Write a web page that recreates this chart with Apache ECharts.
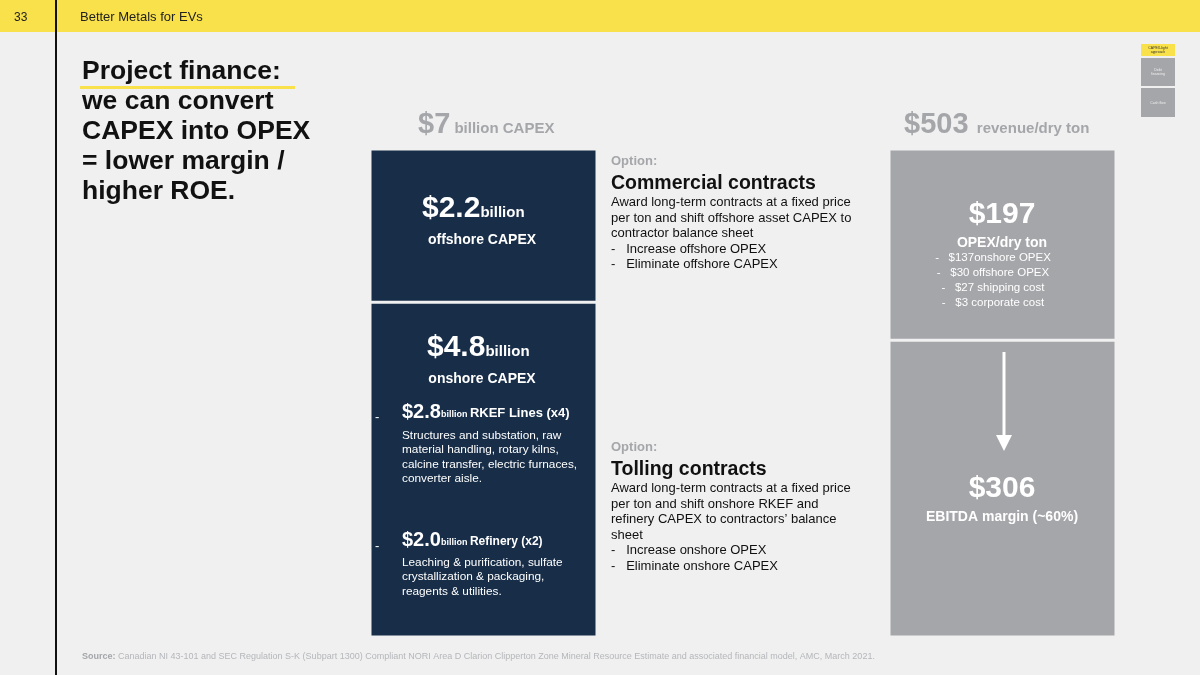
<!DOCTYPE html>
<html lang="en">
<head>
  <meta charset="UTF-8">
  <title>Better Metals for EVs</title>
  <script src="https://cdn.jsdelivr.net/npm/echarts@6/dist/echarts.min.js"></script>
</head>
<body style="margin:0">
  <div id="container" style="width:1200px;height:675px;"></div>
  <script>
    // data
    var capexLabels = ['onshore CAPEX', 'offshore CAPEX'];
    var capexValues = [4.8, 2.2];          // $ billion, bottom to top
    var revenueLabels = ['EBITDA margin', 'OPEX'];
    var revenueValues = [306, 197];        // $ per dry ton, bottom to top
    var opexLines = ['$137onshore OPEX', '$30 offshore OPEX', '$27 shipping cost', '$3 corporate cost'];

    var myChart = echarts.init(document.getElementById('container'));
    var F = 'Liberation Sans, Arial, sans-serif';

    function txt(x, y, text, size, color, weight, lh) {
      return { type: 'text', x: x, y: y,
        style: { text: text, fontSize: size, fill: color, fontWeight: weight || 'normal', fontFamily: F, lineHeight: lh || size * 1.25 } };
    }
    function ctxt(x, y, text, size, weight, lh) {
      return { type: 'text', x: x, y: y,
        style: { text: text, textAlign: 'center', fontSize: size, fontWeight: weight || 'bold', fill: '#fff', fontFamily: F, lineHeight: lh || size * 1.25 } };
    }
    function big(x, y, num, unit) {
      return { type: 'text', x: x, y: y,
        style: { text: '{a|' + num + '}{b|' + unit + '}', fontFamily: F,
          rich: { a: { fontSize: 30, fontWeight: 'bold', fill: '#fff', fontFamily: F },
                  b: { fontSize: 15, fontWeight: 'bold', fill: '#fff', fontFamily: F, padding: [8, 0, 0, 0] } } } };
    }
    function sub(x, y, num, label, lsize) {
      return { type: 'text', x: x, y: y, style: { text: '{a|' + num + '}{b|billion }{c|' + label + '}', rich: {
        a: { fontSize: 20, fontWeight: 'bold', fill: '#fff', fontFamily: F },
        b: { fontSize: 9, fontWeight: 'bold', fill: '#fff', fontFamily: F, padding: [5, 0, 0, 0] },
        c: { fontSize: lsize, fontWeight: 'bold', fill: '#fff', fontFamily: F, padding: [3, 0, 0, 0] } } } };
    }

    var graphics = [
      // header
      { type: 'rect', shape: { x: 0, y: 0, width: 1200, height: 32 }, style: { fill: '#f9e14b' } },
      { type: 'rect', shape: { x: 55, y: 0, width: 2, height: 675 }, style: { fill: '#111' } },
      txt(14, 10, '33', 12, '#222'),
      txt(80, 9, 'Better Metals for EVs', 13, '#222'),
      // title
      { type: 'rect', shape: { x: 80, y: 86, width: 215, height: 3 }, style: { fill: '#f9e14b' } },
      txt(82, 57, 'Project finance:\nwe can convert\nCAPEX into OPEX\n= lower margin /\nhigher ROE.', 26.5, '#111', 'bold', 30),
      // nav boxes
      { type: 'rect', shape: { x: 1141, y: 44, width: 34, height: 12 }, style: { fill: '#f9e14b' } },
      { type: 'text', x: 1158, y: 46, style: { text: 'CAPEX-light\napproach', textAlign: 'center', fontSize: 3.5, fill: '#333', fontFamily: F } },
      { type: 'rect', shape: { x: 1141, y: 58, width: 34, height: 28 }, style: { fill: '#a5a6aa' } },
      { type: 'text', x: 1158, y: 68, style: { text: 'Debt\nfinancing', textAlign: 'center', fontSize: 3.5, fill: '#eee', fontFamily: F } },
      { type: 'rect', shape: { x: 1141, y: 88, width: 34, height: 29 }, style: { fill: '#a5a6aa' } },
      { type: 'text', x: 1158, y: 101, style: { text: 'Cash flow', textAlign: 'center', fontSize: 3.5, fill: '#eee', fontFamily: F } },
      // column headings
      { type: 'text', x: 418, y: 110, style: { text: '{a|$7}{b| billion CAPEX}', rich: {
        a: { fontSize: 29, fontWeight: 'bold', fill: '#a5a6aa', fontFamily: F },
        b: { fontSize: 15, fontWeight: 'bold', fill: '#a5a6aa', fontFamily: F, padding: [8, 0, 0, 0] } } } },
      { type: 'text', x: 904, y: 110, style: { text: '{a|$503}{b|  revenue/dry ton}', rich: {
        a: { fontSize: 29, fontWeight: 'bold', fill: '#a5a6aa', fontFamily: F },
        b: { fontSize: 15, fontWeight: 'bold', fill: '#a5a6aa', fontFamily: F, padding: [8, 0, 0, 0] } } } },
      // left block texts
      big(422, 194, '$2.2', 'billion'),
      ctxt(482, 231, capexLabels[1], 14),
      big(427, 333, '$4.8', 'billion'),
      ctxt(482, 370, capexLabels[0], 14),
      txt(375, 409, '-', 13, '#fff'),
      sub(402, 402, '$2.8', 'RKEF Lines (x4)', 13),
      txt(402, 428, 'Structures and substation, raw\nmaterial handling, rotary kilns,\ncalcine transfer, electric furnaces,\nconverter aisle.', 11.8, '#fff', 'normal', 14.5),
      txt(375, 538, '-', 13, '#fff'),
      sub(402, 530, '$2.0', 'Refinery (x2)', 12),
      txt(402, 555, 'Leaching & purification, sulfate\ncrystallization & packaging,\nreagents & utilities.', 11.8, '#fff', 'normal', 14.5),
      // middle options
      txt(611, 153, 'Option:', 13, '#a5a6aa', 'bold'),
      txt(611, 171, 'Commercial contracts', 19.5, '#111', 'bold'),
      txt(611, 195, 'Award long-term contracts at a fixed price\nper ton and shift offshore asset CAPEX to\ncontractor balance sheet\n-   Increase offshore OPEX\n-   Eliminate offshore CAPEX', 13, '#111', 'normal', 15.5),
      txt(611, 439, 'Option:', 13, '#a5a6aa', 'bold'),
      txt(611, 457, 'Tolling contracts', 19.5, '#111', 'bold'),
      txt(611, 481, 'Award long-term contracts at a fixed price\nper ton and shift onshore RKEF and\nrefinery CAPEX to contractors\u2019 balance\nsheet\n-   Increase onshore OPEX\n-   Eliminate onshore CAPEX', 13, '#111', 'normal', 15.5),
      // right block texts
      ctxt(1002, 196, '$' + revenueValues[1], 30),
      ctxt(1002, 234, 'OPEX/dry ton', 14),
      ctxt(993, 250, opexLines.map(function (s) { return '-   ' + s; }).join('\n'), 11.5, 'normal', 15),
      { type: 'line', shape: { x1: 1004, y1: 352, x2: 1004, y2: 438 }, style: { stroke: '#fff', lineWidth: 3 } },
      { type: 'polygon', shape: { points: [[996, 435], [1012, 435], [1004, 451]] }, style: { fill: '#fff' } },
      ctxt(1002, 470, '$' + revenueValues[0], 30),
      ctxt(1002, 508, 'EBITDA margin (~60%)', 14),
      // source
      { type: 'text', x: 82, y: 652, style: { text: '{a|Source: }{b|Canadian NI 43-101 and SEC Regulation S-K (Subpart 1300) Compliant NORI Area D Clarion Clipperton Zone Mineral Resource Estimate and associated financial model, AMC, March 2021.}', rich: {
        a: { fontSize: 9, fontWeight: 'bold', fill: '#a5a6aa', fontFamily: F },
        b: { fontSize: 9, fill: '#b5b6ba', fontFamily: F } } } }
    ];
    graphics.forEach(function (g) { g.z = 100; });

    var bar = function (name, v, color, axis, stack) {
      return { type: 'bar', stack: stack, name: name, data: [v], barWidth: '100%',
        xAxisIndex: axis, yAxisIndex: axis,
        itemStyle: { color: color, borderColor: '#f0f0f0', borderWidth: 1.5 } };
    };

    myChart.setOption({
      backgroundColor: '#f0f0f0',
      animation: false,
      grid: [
        { left: 370, top: 149, width: 227, height: 488 },
        { left: 889, top: 149, width: 227, height: 488 }
      ],
      xAxis: [
        { type: 'category', data: ['CAPEX'], show: false, gridIndex: 0 },
        { type: 'category', data: ['Revenue'], show: false, gridIndex: 1 }
      ],
      yAxis: [
        { type: 'value', min: 0, max: 7, show: false, gridIndex: 0 },
        { type: 'value', min: 0, max: 503, show: false, gridIndex: 1 }
      ],
      series: [
        bar(capexLabels[0], capexValues[0], '#172d48', 0, 'c'),
        bar(capexLabels[1], capexValues[1], '#172d48', 0, 'c'),
        bar(revenueLabels[0], revenueValues[0], '#a5a6aa', 1, 'r'),
        bar(revenueLabels[1], revenueValues[1], '#a5a6aa', 1, 'r')
      ],
      graphic: graphics
    });
  </script>
</body>
</html>
